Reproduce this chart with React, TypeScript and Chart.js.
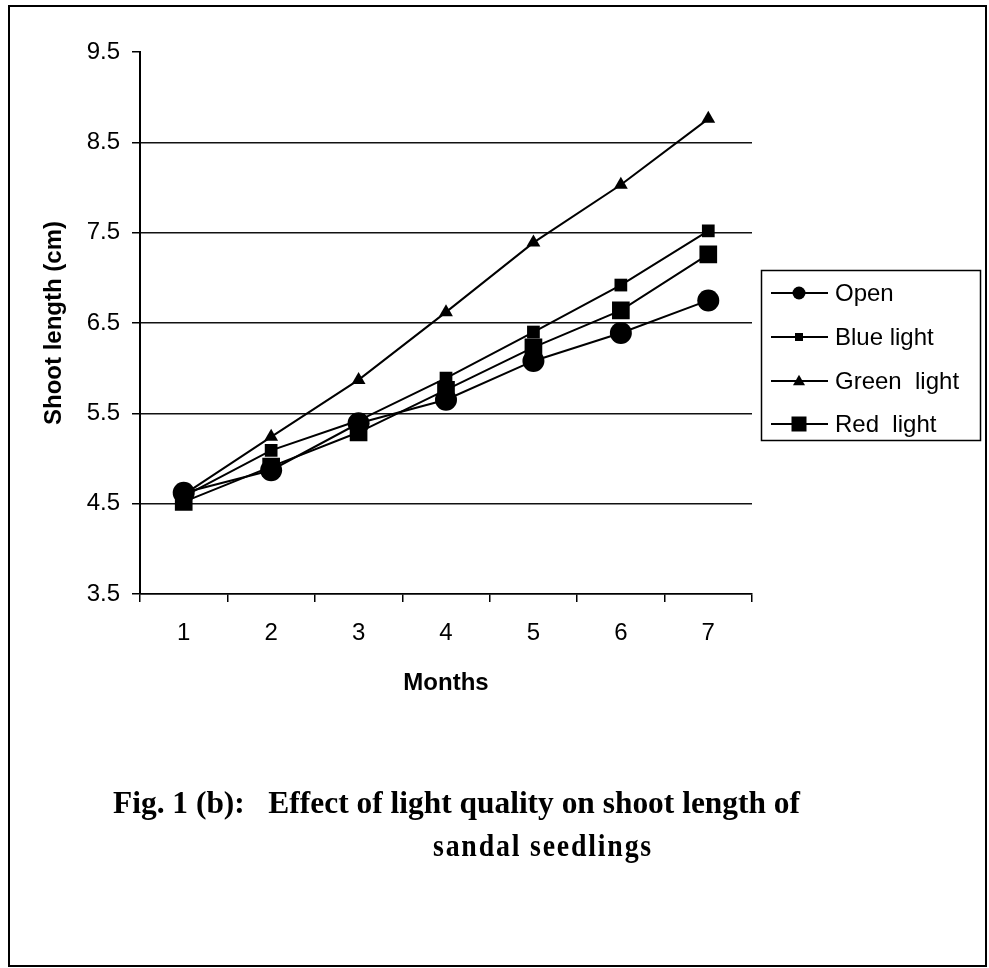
import React, { useEffect, useRef } from "react";
import { Chart, registerables } from "chart.js";

Chart.register(...registerables);

const months = ["1", "2", "3", "4", "5", "6", "7"];
const openData = [4.62, 4.87, 5.39, 5.65, 6.08, 6.39, 6.75];
const blueData = [4.58, 5.09, 5.42, 5.89, 6.4, 6.92, 7.52];
const greenData = [4.6, 5.24, 5.87, 6.62, 7.39, 8.03, 8.76];
const redData = [4.52, 4.91, 5.29, 5.76, 6.23, 6.64, 7.26];
const yTicks = [3.5, 4.5, 5.5, 6.5, 7.5, 8.5, 9.5];
const seriesNames = ["Open", "Blue light", "Green  light", "Red  light"];
const yTitle = "Shoot length (cm)";
const xTitle = "Months";
const captionLine1 = "Fig. 1 (b):   Effect of light quality on shoot length of";
const captionLine2 = "sandal seedlings";

const SANS = "'Liberation Sans', Arial, sans-serif";
const SERIF = "'Liberation Serif', 'Times New Roman', serif";

function drawMarker(ctx: CanvasRenderingContext2D, style: string, x: number, y: number, size: number) {
  ctx.fillStyle = "#000";
  ctx.beginPath();
  if (style === "circle") {
    ctx.arc(x, y, size / 2, 0, Math.PI * 2);
  } else if (style === "rect") {
    ctx.rect(x - size / 2, y - size / 2, size, size);
  } else {
    const h = size * 0.87;
    ctx.moveTo(x, y - h * 0.6);
    ctx.lineTo(x + size / 2, y + h * 0.4);
    ctx.lineTo(x - size / 2, y + h * 0.4);
    ctx.closePath();
  }
  ctx.fill();
}

const legendStyles = ["circle", "rect", "triangle", "rect"];
const legendSizes = [13, 8, 12, 15];

const extrasPlugin = {
  id: "extras",
  afterDraw(chart: any) {
    const ctx: CanvasRenderingContext2D = chart.ctx;
    ctx.save();
    // outer frame
    ctx.strokeStyle = "#000";
    ctx.lineWidth = 2;
    ctx.strokeRect(9, 6, 977, 960);
    // legend box
    ctx.lineWidth = 1.5;
    ctx.strokeRect(761.5, 270.5, 219, 170);
    const ys = [293, 337, 381, 424];
    chart.data.datasets.forEach((ds: any, i: number) => {
      const y = ys[i];
      ctx.strokeStyle = "#000";
      ctx.lineWidth = 2;
      ctx.beginPath();
      ctx.moveTo(771, y);
      ctx.lineTo(828, y);
      ctx.stroke();
      drawMarker(ctx, legendStyles[i], 799, y, legendSizes[i]);
      ctx.fillStyle = "#000";
      ctx.font = `24px ${SANS}`;
      ctx.textBaseline = "middle";
      ctx.textAlign = "left";
      ctx.fillText(ds.label, 835, y + 1);
    });
    // caption
    ctx.fillStyle = "#000";
    ctx.textBaseline = "alphabetic";
    ctx.textAlign = "left";
    ctx.font = `bold 31px ${SERIF}`;
    const w1 = ctx.measureText(captionLine1).width;
    ctx.save();
    ctx.translate(113, 813);
    ctx.scale(687 / w1, 1);
    ctx.fillText(captionLine1, 0, 0);
    ctx.restore();
    (ctx as any).letterSpacing = "2px";
    const w2 = ctx.measureText(captionLine2).width;
    ctx.save();
    ctx.translate(433, 856);
    ctx.scale(220 / w2, 1);
    ctx.fillText(captionLine2, 0, 0);
    ctx.restore();
    ctx.restore();
  },
};

export default function App() {
  const ref = useRef<HTMLCanvasElement | null>(null);

  useEffect(() => {
    if (!ref.current) return;
    const common = {
      borderColor: "#000",
      backgroundColor: "#000",
      pointBackgroundColor: "#000",
      pointBorderColor: "#000",
      borderWidth: 2,
      pointBorderWidth: 0,
      tension: 0,
      fill: false,
    };
    const chart = new Chart(ref.current, {
      type: "line",
      data: {
        labels: months,
        datasets: [
          { ...common, label: seriesNames[0], data: openData, pointStyle: "circle", pointRadius: 11 },
          { ...common, label: seriesNames[1], data: blueData, pointStyle: "rect", pointRadius: 9 },
          { ...common, label: seriesNames[2], data: greenData, pointStyle: "triangle", pointRadius: 8 },
          { ...common, label: seriesNames[3], data: redData, pointStyle: "rect", pointRadius: 12.5 },
        ],
      },
      options: {
        animation: false,
        responsive: false,
        devicePixelRatio: 1,
        layout: { padding: { top: 52, right: 237, bottom: 0, left: 0 } },
        plugins: {
          legend: { display: false },
          tooltip: { enabled: false },
          title: { display: false },
        },
        scales: {
          x: {
            type: "category",
            offset: true,
            afterFit: (scale: any) => {
              scale.height = 968 - 594;
            },
            grid: {
              display: true,
              drawOnChartArea: false,
              drawTicks: true,
              tickLength: 8,
              offset: true,
              color: "#000",
              lineWidth: 1.5,
            },
            border: { display: true, color: "#000", width: 1.5 },
            ticks: {
              color: "#000",
              font: { family: SANS, size: 24 },
              padding: 17,
              maxRotation: 0,
            },
            title: {
              display: true,
              text: xTitle,
              color: "#000",
              font: { family: SANS, size: 24, weight: "bold" },
              padding: { top: 0, bottom: 270 },
            },
          },
          y: {
            type: "linear",
            min: 3.5,
            max: 9.5,
            afterFit: (scale: any) => {
              scale.width = 140;
            },
            afterBuildTicks: (scale: any) => {
              scale.ticks = yTicks.map((v) => ({ value: v }));
            },
            grid: {
              display: true,
              drawOnChartArea: true,
              drawTicks: true,
              tickLength: 8,
              color: (c: any) => (c.tick && c.tick.value === 9.5 ? "rgba(0,0,0,0)" : "#111"),
              tickColor: "#000",
              lineWidth: 1.5,
            },
            border: { display: true, color: "#000", width: 2 },
            ticks: {
              color: "#000",
              font: { family: SANS, size: 24 },
              padding: 12,
              callback: (v: any) => Number(v).toFixed(1),
            },
            title: {
              display: true,
              text: yTitle,
              color: "#000",
              font: { family: SANS, size: 24, weight: "bold" },
              padding: { top: 40, bottom: 0 },
            },
          },
        },
      } as any,
      plugins: [extrasPlugin],
    });
    return () => chart.destroy();
  }, []);

  return (
    <div style={{ position: "absolute", left: 0, top: 0, width: 989, height: 968, background: "#fff" }}>
      <canvas ref={ref} width={989} height={968} style={{ display: "block", width: 989, height: 968 }} />
    </div>
  );
}
